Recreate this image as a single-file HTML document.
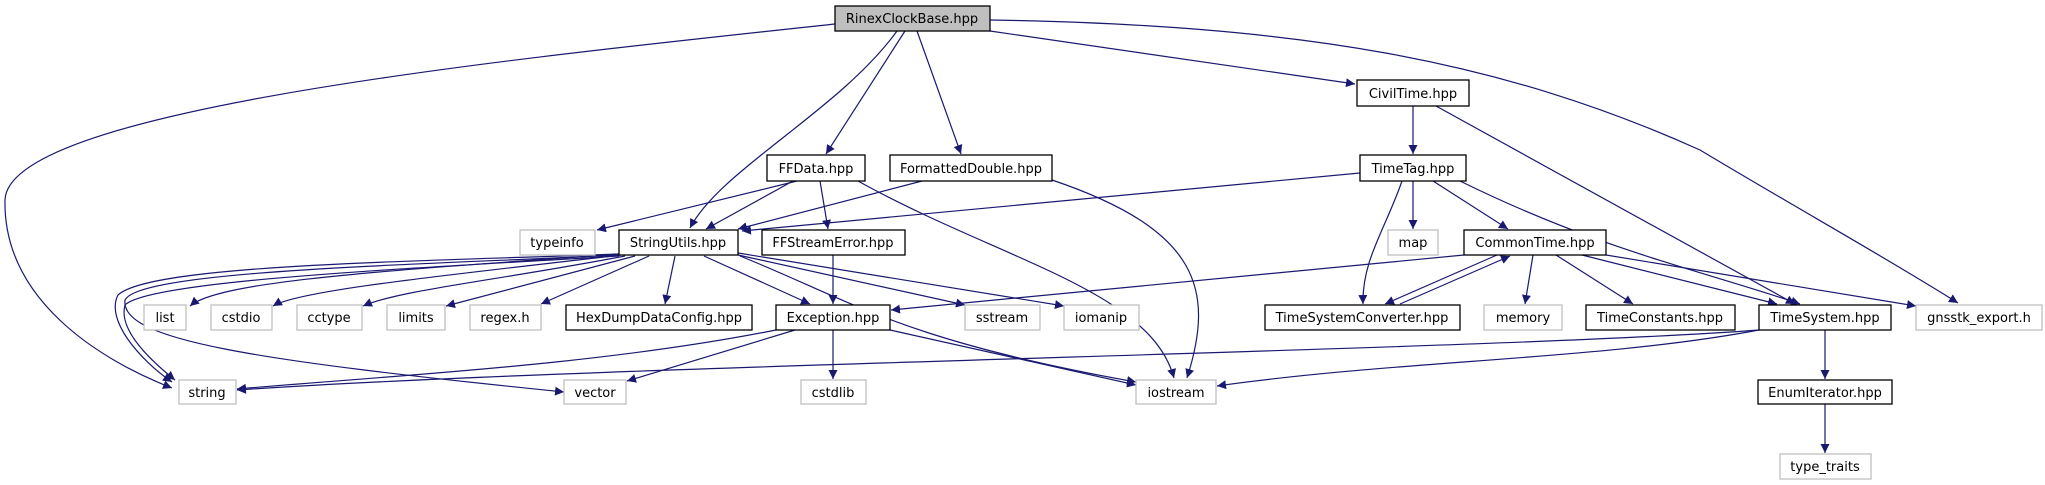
<!DOCTYPE html>
<html><head><meta charset="utf-8"><style>
html,body{margin:0;padding:0;background:#fff;}
svg{display:block;}
text{font-family:"DejaVu Sans","Liberation Sans",sans-serif;font-size:13px;fill:#000;text-anchor:middle;}
.e{fill:none;stroke:#191970;stroke-width:1.2;}
.n rect{fill:#fff;stroke:#000;stroke-width:1.3;}
.g rect{fill:#fff;stroke:#bfbfbf;stroke-width:1.3;}
</style></head><body>
<svg width="2045" height="485" viewBox="0 0 2045 485" xmlns="http://www.w3.org/2000/svg">
<defs><marker id="a" viewBox="0 0 10 10" refX="10" refY="5" markerWidth="9" markerHeight="9" markerUnits="userSpaceOnUse" orient="auto"><path d="M0,0 L10,5 L0,10 z" fill="#191970"/></marker></defs>
<g marker-end="url(#a)">
<path class="e" d="M835,24 C500,60 8,110 5,200 C3,300 100,360 172,388"/>
<path class="e" d="M897,31 C840,110 720,170 690,228"/>
<path class="e" d="M905,31 L826,154"/>
<path class="e" d="M917,31 L961,154"/>
<path class="e" d="M990,31 L1355,84"/>
<path class="e" d="M990,20 C1300,25 1500,60 1700,150 C1800,210 1890,260 1958,303"/>
<path class="e" d="M797,181 L597,230"/>
<path class="e" d="M793,181 L706,229"/>
<path class="e" d="M820,181 L828,229"/>
<path class="e" d="M858,181 C1000,260 1150,290 1174,378"/>
<path class="e" d="M922,181 L738,229"/>
<path class="e" d="M1052,180 C1200,230 1215,290 1187,378"/>
<path class="e" d="M1360,173 L742,231"/>
<path class="e" d="M1413,106 L1413,154"/>
<path class="e" d="M1436,106 L1795,304"/>
<path class="e" d="M1413,181 L1413,229"/>
<path class="e" d="M1433,181 L1508,229"/>
<path class="e" d="M1402,181 C1385,230 1362,260 1363,304"/>
<path class="e" d="M1460,181 C1600,250 1700,270 1800,304"/>
<path class="e" d="M1464,255 L891,310"/>
<path class="e" d="M1497,255 L1385,304"/>
<path class="e" d="M1400,304 L1510,256"/>
<path class="e" d="M1533,255 L1525,304"/>
<path class="e" d="M1556,255 L1633,304"/>
<path class="e" d="M1582,255 L1777,304"/>
<path class="e" d="M1606,255 L1916,306"/>
<path class="e" d="M1759,330 C1500,350 600,365 237,390"/>
<path class="e" d="M1759,330 C1600,360 1400,360 1217,386"/>
<path class="e" d="M1825,330 L1825,379"/>
<path class="e" d="M1825,404 L1825,453"/>
<path class="e" d="M833,255 L833,304"/>
<path class="e" d="M776,330 C600,365 400,375 237,389"/>
<path class="e" d="M795,330 L627,381"/>
<path class="e" d="M833,330 L833,379"/>
<path class="e" d="M890,330 L1136,385"/>
<path class="e" d="M619,254 C400,270 220,280 190,306"/>
<path class="e" d="M621,255 C450,275 300,290 273,306"/>
<path class="e" d="M625,256 C500,280 400,290 363,306"/>
<path class="e" d="M635,256 L446,306"/>
<path class="e" d="M649,256 L541,304"/>
<path class="e" d="M675,256 L665,304"/>
<path class="e" d="M704,256 L810,304"/>
<path class="e" d="M738,255 L965,305"/>
<path class="e" d="M738,253 L1064,306"/>
<path class="e" d="M740,256 C850,300 900,340 1136,382"/>
<path class="e" d="M619,254 C400,262 150,265 118,295 C105,320 140,360 172,382"/>
<path class="e" d="M619,255 C420,265 140,270 125,300 C120,340 250,360 564,392"/>
<path class="e" d="M619,256 C420,268 150,280 125,305 C118,330 150,360 175,380"/>
</g>
<g class="n"><rect x="835" y="6" width="155" height="25" fill="#bfbfbf" style="fill:#bfbfbf"/><text x="912" y="23">RinexClockBase.hpp</text></g>
<g class="n"><rect x="1357" y="80" width="112" height="26"/><text x="1413" y="98">CivilTime.hpp</text></g>
<g class="n"><rect x="767" y="155" width="98" height="26"/><text x="816" y="173">FFData.hpp</text></g>
<g class="n"><rect x="890" y="155" width="162" height="26"/><text x="971" y="173">FormattedDouble.hpp</text></g>
<g class="n"><rect x="1360" y="155" width="106" height="26"/><text x="1413" y="173">TimeTag.hpp</text></g>
<g class="g"><rect x="520" y="230" width="75" height="25"/><text x="557" y="247">typeinfo</text></g>
<g class="n"><rect x="619" y="230" width="119" height="25"/><text x="678" y="247">StringUtils.hpp</text></g>
<g class="n"><rect x="762" y="230" width="143" height="25"/><text x="833" y="247">FFStreamError.hpp</text></g>
<g class="g"><rect x="1388" y="230" width="50" height="25"/><text x="1413" y="247">map</text></g>
<g class="n"><rect x="1464" y="230" width="142" height="25"/><text x="1535" y="247">CommonTime.hpp</text></g>
<g class="g"><rect x="144" y="305" width="42" height="25"/><text x="165" y="322">list</text></g>
<g class="g"><rect x="211" y="305" width="61" height="25"/><text x="241" y="322">cstdio</text></g>
<g class="g"><rect x="297" y="305" width="65" height="25"/><text x="329" y="322">cctype</text></g>
<g class="g"><rect x="387" y="305" width="58" height="25"/><text x="416" y="322">limits</text></g>
<g class="g"><rect x="470" y="305" width="71" height="25"/><text x="505" y="322">regex.h</text></g>
<g class="n"><rect x="566" y="305" width="186" height="25"/><text x="659" y="322">HexDumpDataConfig.hpp</text></g>
<g class="n"><rect x="776" y="305" width="114" height="25"/><text x="833" y="322">Exception.hpp</text></g>
<g class="g"><rect x="965" y="305" width="75" height="25"/><text x="1002" y="322">sstream</text></g>
<g class="g"><rect x="1064" y="305" width="75" height="25"/><text x="1101" y="322">iomanip</text></g>
<g class="n"><rect x="1265" y="305" width="195" height="25"/><text x="1362" y="322">TimeSystemConverter.hpp</text></g>
<g class="g"><rect x="1484" y="305" width="78" height="25"/><text x="1523" y="322">memory</text></g>
<g class="n"><rect x="1586" y="305" width="149" height="25"/><text x="1660" y="322">TimeConstants.hpp</text></g>
<g class="n"><rect x="1759" y="305" width="132" height="25"/><text x="1825" y="322">TimeSystem.hpp</text></g>
<g class="g"><rect x="1916" y="305" width="126" height="25"/><text x="1979" y="322">gnsstk_export.h</text></g>
<g class="g"><rect x="179" y="380" width="57" height="24"/><text x="207" y="397">string</text></g>
<g class="g"><rect x="564" y="380" width="62" height="24"/><text x="595" y="397">vector</text></g>
<g class="g"><rect x="801" y="380" width="65" height="24"/><text x="833" y="397">cstdlib</text></g>
<g class="g"><rect x="1136" y="380" width="80" height="24"/><text x="1176" y="397">iostream</text></g>
<g class="n"><rect x="1758" y="380" width="134" height="24"/><text x="1825" y="397">EnumIterator.hpp</text></g>
<g class="g"><rect x="1780" y="454" width="91" height="25"/><text x="1825" y="471">type_traits</text></g>
</svg>
</body></html>
